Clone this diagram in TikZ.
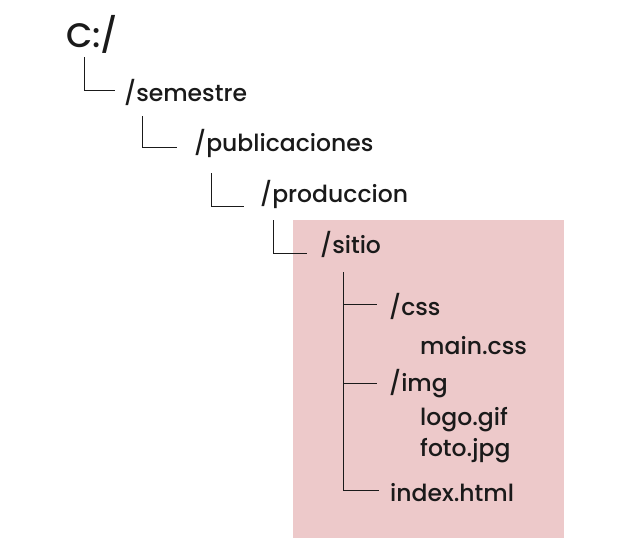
\documentclass[tikz,border=0pt]{standalone}
\usepackage{fontspec}
\setmainfont{Poppins}[UprightFont=* Medium]
\usetikzlibrary{positioning}
\definecolor{ink}{HTML}{1A1A1A}
\definecolor{rosa}{HTML}{EDC9CA}
\tikzset{
    folder/.style={anchor=base west, inner sep=0pt, text=ink, font=\fontsize{23.5}{28}\selectfont},
    link/.style={draw=ink, line width=0.9pt},
    sitebox/.style={fill=rosa, draw=none}
}

\begin{document}
\begin{tikzpicture}[x=1pt, y=-1pt]
    \useasboundingbox (0,0) rectangle (635,555);
    % Highlighted site folder
    \fill[sitebox] (293,220) rectangle (564,538);

    % Path down to the site
    \node[folder, font=\fontsize{34}{40}\selectfont] (root) at (66,47) {C:/};
    \node[folder] (sem) at (124,101) {/semestre};
    \node[folder] (pub) at (194,151) {/publicaciones};
    \node[folder] (prod) at (260,202) {/produccion};
    \node[folder] (sitio) at (320,253) {/sitio};

    % Contents of /sitio
    \node[folder] (css) at (389,315) {/css};
    \node[folder] (maincss) at (420,354) {main.css};
    \node[folder] (img) at (389,391) {/img};
    \node[folder] (logo) at (420,425) {logo.gif};
    \node[folder] (foto) at (420,456) {foto.jpg};
    \node[folder] (index) at (390,501) {index.html};

    % Elbow connectors
    \draw[link] ([xshift=18pt, yshift=-10pt]root.base west) |- ([xshift=-9pt, yshift=11pt]sem.base west);
    \draw[link] ([xshift=-52pt, yshift=35pt]pub.base west) |- ([xshift=-17pt, yshift=4pt]pub.base west);
    \draw[link] ([xshift=-49pt, yshift=29pt]prod.base west) |- ([xshift=-16pt, yshift=-4pt]prod.base west);
    \draw[link] ([xshift=-47pt, yshift=33pt]sitio.base west) |- ([xshift=-13pt]sitio.base west);

    % Tree inside /sitio
    \coordinate (trunk) at (343,272);
    \draw[link] (trunk) |- ([xshift=-11pt, yshift=11pt]index.base west);
    \draw[link] (trunk |- css.base west) ++(0,-11) -- ([xshift=-12pt, yshift=11pt]css.base west);
    \draw[link] (trunk |- img.base west) ++(0,-8) -- ([xshift=-12pt, yshift=8pt]img.base west);
\end{tikzpicture}
\end{document}
